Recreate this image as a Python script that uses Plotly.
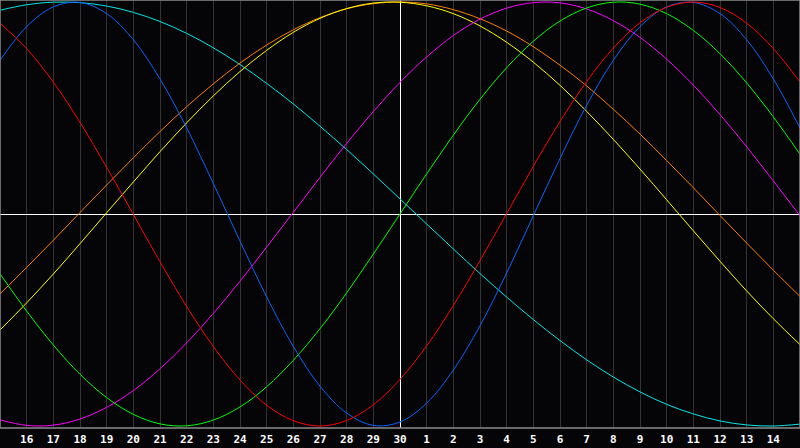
import plotly.graph_objects as go

# day labels shown under the grid lines (positions 1..29); positions 0 and 30 are the edges (day 15)
tick_labels = ["16", "17", "18", "19", "20", "21", "22", "23", "24", "25", "26", "27", "28", "29", "30",
               "1", "2", "3", "4", "5", "6", "7", "8", "9", "10", "11", "12", "13", "14"]

# values read at each day position 0..30 (day 15 .. day 15 of next month)
physical = [0.725, 0.884, 0.977, 0.998, 0.945, 0.822, 0.637, 0.406, 0.144, -0.128, -0.391, -0.625,
            -0.812, -0.939, -0.997, -0.981, -0.892, -0.736, -0.527, -0.278, -0.008, 0.262, 0.513,
            0.725, 0.884, 0.977, 0.998, 0.945, 0.822, 0.637, 0.406]
emotional = [0.900, 0.780, 0.622, 0.432, 0.220, -0.002, -0.225, -0.436, -0.625, -0.783, -0.902, -0.975,
             -1.000, -0.974, -0.900, -0.780, -0.622, -0.432, -0.220, 0.002, 0.225, 0.436, 0.625,
             0.783, 0.902, 0.975, 1.000, 0.974, 0.900, 0.780, 0.622]
intellectual = [-0.282, -0.458, -0.618, -0.756, -0.866, -0.945, -0.990, -0.999, -0.972, -0.910, -0.815,
                -0.690, -0.541, -0.372, -0.189, 0.000, 0.189, 0.372, 0.541, 0.690, 0.815, 0.910, 0.972,
                0.999, 0.990, 0.945, 0.866, 0.756, 0.618, 0.458, 0.282]
intuitive = [-0.971, -0.997, -0.996, -0.967, -0.912, -0.833, -0.730, -0.608, -0.469, -0.317, -0.156,
             0.008, 0.173, 0.333, 0.483, 0.621, 0.741, 0.842, 0.919, 0.971, 0.997, 0.996, 0.967, 0.912,
             0.833, 0.730, 0.608, 0.469, 0.317, 0.156, -0.008]
aesthetic = [-0.547, -0.419, -0.283, -0.140, 0.006, 0.151, 0.294, 0.430, 0.557, 0.672, 0.772, 0.857,
             0.923, 0.969, 0.995, 0.999, 0.982, 0.945, 0.887, 0.810, 0.716, 0.607, 0.484, 0.352, 0.212,
             0.067, -0.079, -0.223, -0.363, -0.494, -0.616]
awareness = [-0.377, -0.252, -0.124, 0.007, 0.137, 0.265, 0.389, 0.506, 0.614, 0.712, 0.797, 0.869,
             0.926, 0.968, 0.992, 1.000, 0.991, 0.964, 0.921, 0.863, 0.789, 0.702, 0.604, 0.494, 0.377,
             0.252, 0.124, -0.007, -0.137, -0.265, -0.389]
spiritual = [0.961, 0.987, 0.999, 0.997, 0.981, 0.951, 0.908, 0.852, 0.784, 0.705, 0.616, 0.519, 0.414,
             0.304, 0.189, 0.071, -0.047, -0.165, -0.281, -0.392, -0.498, -0.597, -0.688, -0.769,
             -0.839, -0.898, -0.943, -0.976, -0.995, -1.000, -0.991]

series = [
    ("Spiritual", spiritual, "#00e8e8"),
    ("Awareness", awareness, "#ff7f00"),
    ("Aesthetic", aesthetic, "#ffff00"),
    ("Intuitive", intuitive, "#ff00ff"),
    ("Intellectual", intellectual, "#00ff00"),
    ("Physical", physical, "#0a64ff"),
    ("Emotional", emotional, "#ff0000"),
]

x = list(range(len(physical)))
tick_pos = list(range(1, len(tick_labels) + 1))

Y_MAX = 1.0094
# half-pixel offsets so 1px white axes render crisp
HALF_PX_Y = 0.5 * (2 * Y_MAX) / 428
HALF_PX_X = 0.5 * 30 / 800

fig = go.Figure()
for name, vals, col in series:
    fig.add_trace(go.Scatter(x=x, y=vals, mode="lines", name=name,
                             line=dict(color=col, width=1, shape="spline", smoothing=1),
                             hoverinfo="skip"))

fig.update_layout(
    width=800, height=448,
    margin=dict(l=0, r=0, t=0, b=20),
    paper_bgcolor="#050508", plot_bgcolor="#050508",
    showlegend=False,
    xaxis=dict(range=[0, 30], tickvals=tick_pos, ticktext=tick_labels,
               showgrid=True, gridcolor="#333333", gridwidth=1, zeroline=False,
               ticks="", ticklen=0, showline=False, ticklabelstandoff=3,
               tickfont=dict(family="DejaVu Sans Mono", size=11, color="white", weight="bold"),
               fixedrange=True),
    yaxis=dict(range=[-Y_MAX, Y_MAX], showgrid=False, zeroline=False, showticklabels=False,
               ticks="", fixedrange=True),
    shapes=[
        dict(type="line", xref="x", yref="y", x0=0, x1=30, y0=-HALF_PX_Y, y1=-HALF_PX_Y,
             line=dict(color="white", width=1), layer="between"),
        dict(type="line", xref="x", yref="y", x0=15 + HALF_PX_X, x1=15 + HALF_PX_X, y0=-Y_MAX, y1=Y_MAX,
             line=dict(color="white", width=1), layer="between"),
        dict(type="rect", xref="paper", yref="paper", x0=0, x1=1, y0=0, y1=1,
             line=dict(color="#8a8a8a", width=1.5), layer="above"),
    ],
)

fig.write_html("out.html", config={"displayModeBar": False})

# remove the browser's default page margin so the figure fills the window exactly
with open("out.html", "r", encoding="utf-8") as f:
    html = f.read()
html = html.replace("<head>", "<head><style>html,body{margin:0;padding:0;overflow:hidden;background:#050508}</style>", 1)
with open("out.html", "w", encoding="utf-8") as f:
    f.write(html)
